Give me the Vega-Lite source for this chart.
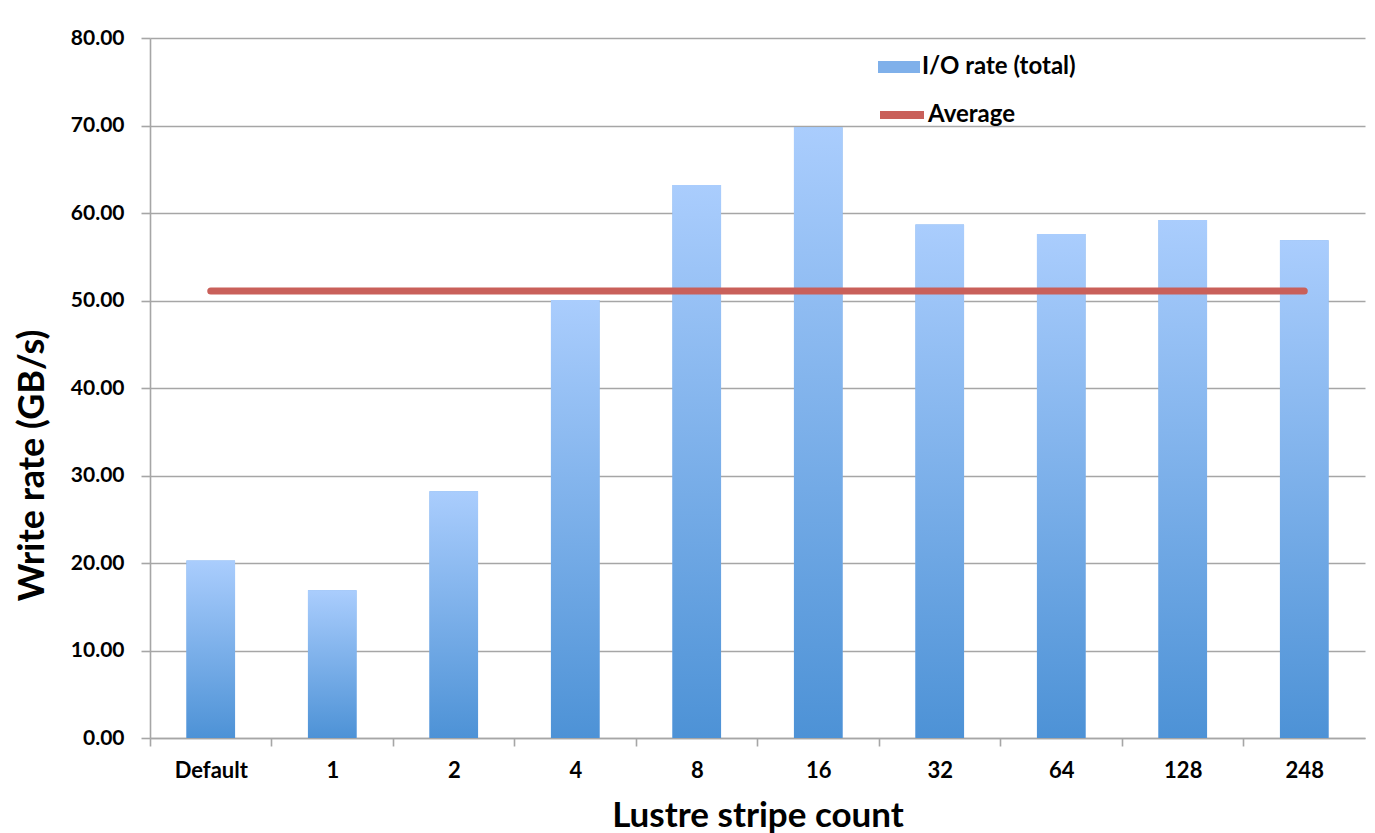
{
  "$schema": "https://vega.github.io/schema/vega-lite/v6.json",
  "width": 1215,
  "height": 700,
  "autosize": {"type": "none"},
  "padding": {"left": 150, "top": 38, "right": 10, "bottom": 95},
  "background": "white",
  "config": {
    "font": "Lato",
    "view": {"stroke": null},
    "axis": {
      "labelFont": "Lato", "labelFontWeight": "bold", "labelColor": "black",
      "titleFont": "Lato", "titleFontWeight": "bold", "titleColor": "black",
      "domainColor": "#a6a6a6", "domainWidth": 1.6,
      "tickColor": "#a6a6a6", "tickWidth": 1.6,
      "gridColor": "#a6a6a6", "gridWidth": 1.6
    },
    "legend": {"labelFont": "Lato", "labelFontWeight": "bold", "labelColor": "black", "labelFontSize": 24}
  },
  "data": {
    "values": [
      {"count": "Default", "rate": 20.3, "avg": 51.1},
      {"count": "1", "rate": 16.9, "avg": 51.1},
      {"count": "2", "rate": 28.2, "avg": 51.1},
      {"count": "4", "rate": 50.05, "avg": 51.1},
      {"count": "8", "rate": 63.2, "avg": 51.1},
      {"count": "16", "rate": 69.8, "avg": 51.1},
      {"count": "32", "rate": 58.7, "avg": 51.1},
      {"count": "64", "rate": 57.6, "avg": 51.1},
      {"count": "128", "rate": 59.2, "avg": 51.1},
      {"count": "248", "rate": 56.9, "avg": 51.1}
    ]
  },
  "encoding": {
    "x": {
      "field": "count", "type": "nominal", "sort": null,
      "scale": {"paddingInner": 0.6, "paddingOuter": 0.3},
      "axis": {
        "title": "Lustre stripe count", "titleFontSize": 35, "titleBaseline": "alphabetic", "titleY": 88,
        "labelAngle": 0, "labelFontSize": 22, "labelPadding": 14, "tickSize": 8,
        "bandPosition": 0, "tickOffset": -36.45, "labelOffset": 36.45, "grid": false
      }
    },
    "y": {
      "field": "rate", "type": "quantitative",
      "scale": {"domain": [0, 80]},
      "title": "Write rate (GB/s)",
      "axis": {
        "titleFontSize": 36, "titleBaseline": "middle", "titleX": -118, "titleY": 427,
        "values": [0, 10, 20, 30, 40, 50, 60, 70, 80], "format": ".2f",
        "labelFontSize": 21, "labelPadding": 17, "tickSize": 9, "grid": true
      }
    }
  },
  "layer": [
    {
      "mark": {"type": "bar"},
      "encoding": {
        "fill": {
          "datum": "I/O rate (total)", "type": "nominal",
          "scale": {"range": ["#7fb0ea"]},
          "legend": {
            "title": null, "orient": "none", "legendX": 728, "legendY": 8, "padding": 0,
            "symbolType": "M-1,-0.28H1V0.28H-1Z", "symbolSize": 1764, "symbolStrokeWidth": 0,
            "labelOffset": 2,
            "encode": {"symbols": {"update": {"fill": {"value": {"gradient": "linear", "x1": 0, "y1": 0, "x2": 0, "y2": 1, "stops": [{"offset": 0, "color": "#aacdfd"}, {"offset": 1, "color": "#4f93d7"}]}}}}}
          }
        }
      }
    },
    {
      "mark": {
        "type": "bar",
        "fill": {"gradient": "linear", "x1": 0, "y1": 0, "x2": 0, "y2": 1, "stops": [{"offset": 0, "color": "#aacdfd"}, {"offset": 1, "color": "#4d92d6"}]}
      }
    },
    {
      "mark": {"type": "line", "strokeWidth": 7, "strokeCap": "round"},
      "encoding": {
        "y": {"field": "avg", "type": "quantitative", "title": "Write rate (GB/s)"},
        "stroke": {
          "datum": "Average", "type": "nominal",
          "scale": {"range": ["#c9605a"]},
          "legend": {
            "title": null, "orient": "none", "legendX": 726, "legendY": 51, "padding": 0,
            "symbolType": "stroke", "symbolSize": 1936, "symbolStrokeWidth": 8,
            "labelOffset": 0
          }
        }
      }
    }
  ]
}
